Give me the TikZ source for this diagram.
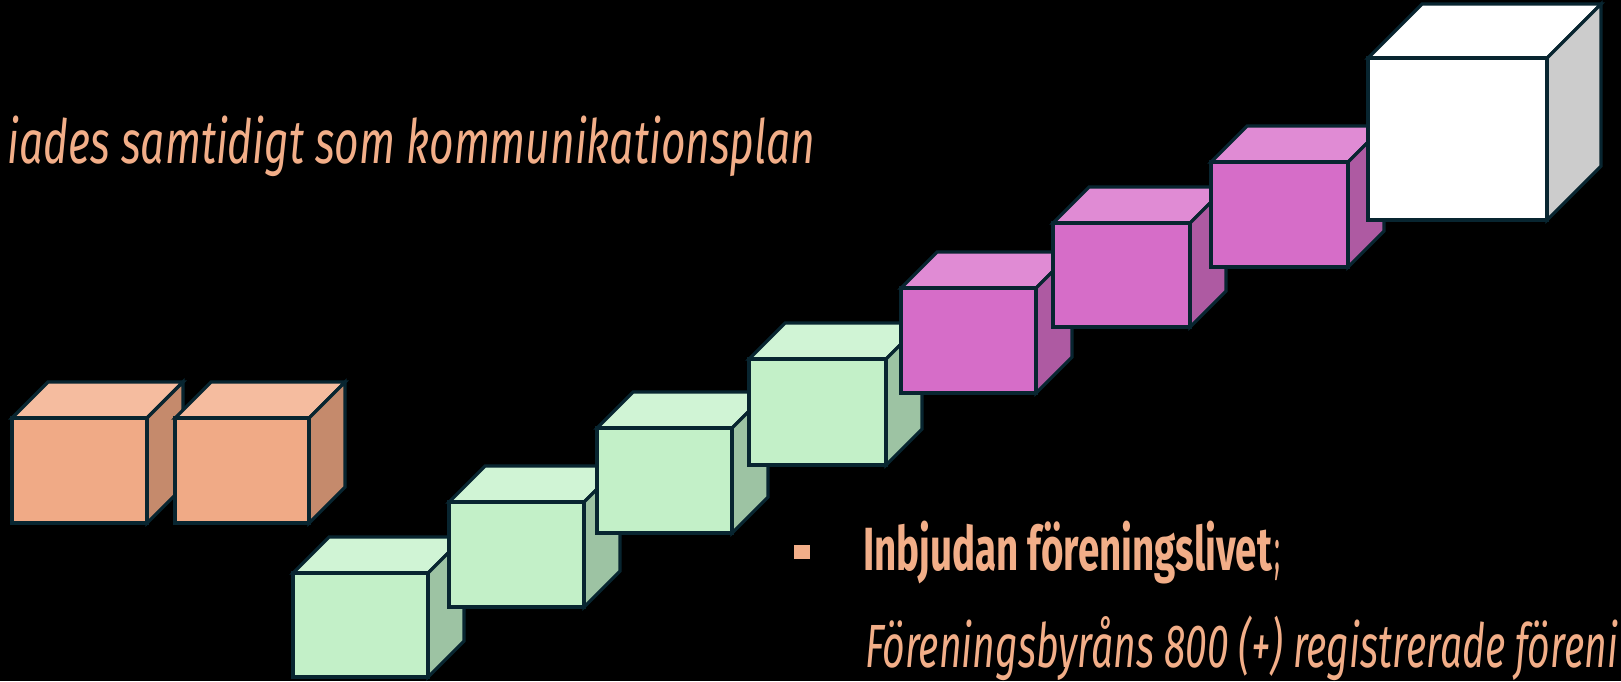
\documentclass[tikz,border=0pt]{standalone}
\usepackage{fontspec}
\usepackage{graphicx}
\setmainfont{Fira Sans}
\definecolor{edge}{HTML}{082530}
\definecolor{txtc}{HTML}{F2AE88}
\definecolor{orF}{HTML}{F0AA86}\definecolor{orT}{HTML}{F5BC9F}\definecolor{orS}{HTML}{C58A6C}
\definecolor{grF}{HTML}{C3F0C8}\definecolor{grT}{HTML}{D0F4D5}\definecolor{grS}{HTML}{9DC3A3}
\definecolor{mgF}{HTML}{D66DC8}\definecolor{mgT}{HTML}{E08BD4}\definecolor{mgS}{HTML}{AE5AA2}
\definecolor{whF}{HTML}{FFFFFF}\definecolor{whT}{HTML}{FFFFFF}\definecolor{whS}{HTML}{CCCCCC}
\tikzset{
  cubeline/.style={draw=edge, line width=3.2pt, line join=miter},
  txt/.style={inner sep=0pt, outer sep=0pt, text=txtc, anchor=base west},
}
% #1 x, #2 y (front top-left), #3 w, #4 h, #5 depth, #6 prefix colour
\newcommand\drawcube[6]{%
  \filldraw[cubeline, fill=#6T] (#1,#2) -- ({#1+#5},{#2-#5}) -- ({#1+#3+#5},{#2-#5}) -- ({#1+#3},#2) -- cycle;
  \filldraw[cubeline, fill=#6S] ({#1+#3},#2) -- ({#1+#3+#5},{#2-#5}) -- ({#1+#3+#5},{#2+#4-#5}) -- ({#1+#3},{#2+#4}) -- cycle;
  \filldraw[cubeline, fill=#6F] (#1,#2) rectangle ({#1+#3},{#2+#4});
}
\begin{document}
\begin{tikzpicture}[x=1pt,y=-1pt]
\fill[black] (0,0) rectangle (1621,681);
\useasboundingbox (0,0) rectangle (1621,681);
% cubes
\drawcube{12}{418}{135}{105}{36}{or}
\drawcube{175}{418}{134}{105}{36}{or}
\drawcube{293}{573}{135}{104}{36}{gr}
\drawcube{449}{502}{135}{105}{36}{gr}
\drawcube{597}{428}{135}{105}{36}{gr}
\drawcube{749}{359}{137}{106}{36}{gr}
\drawcube{901}{288}{135}{105}{36}{mg}
\drawcube{1053}{223}{137}{104}{36}{mg}
\drawcube{1211}{162}{137}{105}{36}{mg}
\drawcube{1368}{58}{179}{162}{54}{wh}
% texts
\node[txt] (title) at (8,163) {\resizebox{807pt}{\height}{\fontsize{61}{64}\selectfont\itshape iades samtidigt som kommunikationsplan}};
\node[fill=txtc, minimum width=16pt, minimum height=14pt, inner sep=0pt, anchor=north west] (bullet) at (794,545) {};
\node[txt] (bold) at (863,570) {\resizebox{409pt}{\height}{\fontsize{61}{64}\selectfont\bfseries Inbjudan föreningslivet}};
\node[txt] (semi) at (1274,570) {\resizebox{6pt}{\height}{\fontsize{61}{64}\selectfont ;}};
\node[txt] (sub) at (865,667) {\resizebox{753pt}{\height}{\fontsize{61}{64}\selectfont\itshape Föreningsbyråns 800 (+) registrerade föreni}};
\end{tikzpicture}
\end{document}
